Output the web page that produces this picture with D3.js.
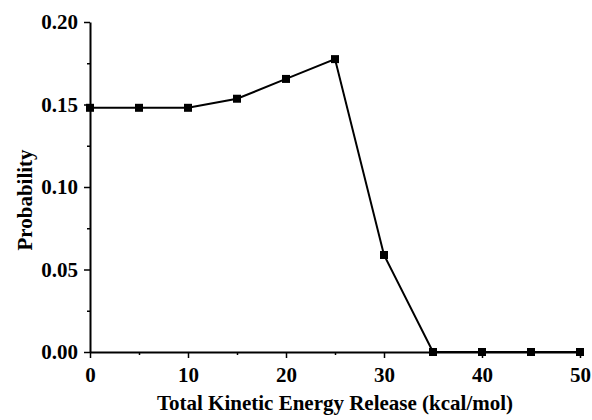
<!DOCTYPE html>
<html>
<head>
<meta charset="utf-8">
<script src="https://cdn.jsdelivr.net/npm/d3@7"></script>
<style>
  body { margin: 0; background: #fff; }
  text { font-family: "Liberation Serif", "Times New Roman", serif; font-weight: bold; fill: #000; }
</style>
</head>
<body>
<div id="chart"></div>
<script>
// Data
const energy = [0, 5, 10, 15, 20, 25, 30, 35, 40, 45, 50];
const probability = [0.148, 0.148, 0.148, 0.1535, 0.1655, 0.1775, 0.0588, 0, 0, 0, 0];
const xTicks = [0, 10, 20, 30, 40, 50];
const yTicks = [0.00, 0.05, 0.10, 0.15, 0.20];
const xMinor = [5, 15, 25, 35, 45];
const yMinor = [0.025, 0.075, 0.125, 0.175];

const svgWidth = 592;
const svgHeight = 420;
const margin = { top: 22, right: 12, bottom: 68, left: 90 };
const width = svgWidth - margin.left - margin.right;
const height = svgHeight - margin.top - margin.bottom;

const svg = d3.select('#chart')
  .append('svg')
  .attr('width', svgWidth)
  .attr('height', svgHeight);

const g = svg.append('g')
  .attr('transform', `translate(${margin.left}, ${margin.top})`);

const x = d3.scaleLinear().domain([0, 50]).range([0, 490]);
const y = d3.scaleLinear().domain([0, 0.20]).range([height, 0]);

// minor ticks
g.append('g')
  .attr('transform', `translate(0, ${height})`)
  .call(d3.axisBottom(x).tickValues(xMinor).tickSize(3).tickFormat(''))
  .call(a => a.select('.domain').remove())
  .selectAll('line').attr('stroke-width', 1.5);
g.append('g')
  .call(d3.axisLeft(y).tickValues(yMinor).tickSize(3).tickFormat(''))
  .call(a => a.select('.domain').remove())
  .selectAll('line').attr('stroke-width', 1.5);

// major axes
const xAxis = g.append('g')
  .attr('transform', `translate(0, ${height})`)
  .call(d3.axisBottom(x).tickValues(xTicks).tickSize(6).tickSizeOuter(0).tickPadding(9).tickFormat(d3.format('d')));
const yAxis = g.append('g')
  .call(d3.axisLeft(y).tickValues(yTicks).tickSize(6).tickSizeOuter(0).tickPadding(6).tickFormat(d3.format('.2f')));

[xAxis, yAxis].forEach(a => {
  a.select('.domain').attr('stroke-width', 2);
  a.selectAll('line').attr('stroke-width', 1.5);
  a.selectAll('text').style('font-size', '21px').attr('fill', '#000');
});

// line + markers
const pts = energy.map((e, i) => ({ e: e, p: probability[i] }));
g.append('path')
  .datum(pts)
  .attr('fill', 'none')
  .attr('stroke', '#000')
  .attr('stroke-width', 2)
  .attr('d', d3.line().x(d => x(d.e)).y(d => y(d.p)));

g.selectAll('rect.pt')
  .data(pts)
  .enter()
  .append('rect')
  .attr('class', 'pt')
  .attr('x', d => x(d.e) - 4)
  .attr('y', d => y(d.p) - 4)
  .attr('width', 8)
  .attr('height', 8)
  .attr('fill', '#000');

// axis titles
svg.append('text')
  .attr('x', margin.left + x(25))
  .attr('y', 410)
  .attr('text-anchor', 'middle')
  .style('font-size', '21px')
  .text('Total Kinetic Energy Release (kcal/mol)');

svg.append('text')
  .attr('transform', 'translate(32, 200) rotate(-90)')
  .attr('text-anchor', 'middle')
  .style('font-size', '21px')
  .text('Probability');
</script>
</body>
</html>
